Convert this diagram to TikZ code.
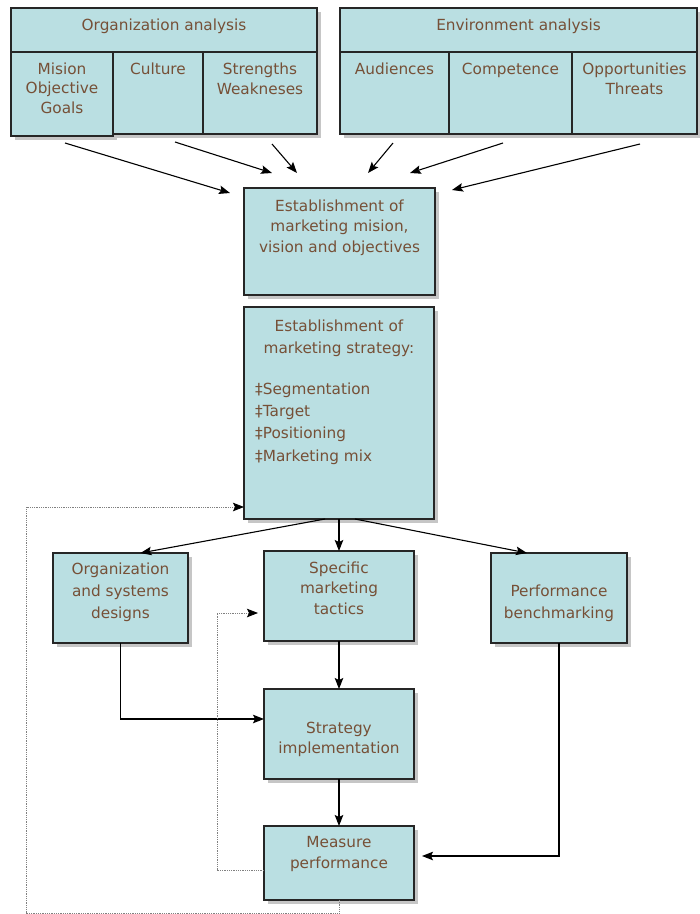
\documentclass[tikz,border=0pt]{standalone}
\usepackage{fontspec}
\setmainfont{DejaVu Sans}
\usetikzlibrary{arrows.meta,shadows}
\definecolor{boxfill}{RGB}{186,223,226}
\definecolor{txtcol}{RGB}{118,80,55}
\tikzset{%
    box/.style={draw=black!85, line width=1.3pt, fill=boxfill, anchor=north west, inner sep=0pt, outer sep=0pt,
        drop shadow={shadow xshift=3.5pt, shadow yshift=-3.5pt, opacity=0.45}},
    lbl/.style={text=txtcol, font=\fontsize{15.3}{20.5}\selectfont, align=center, inner sep=0pt, anchor=north},
    pra/.style={line width=1.1pt, -{Stealth[length=11pt, width=8.5pt, inset=2pt]}},
    dra/.style={line width=0.8pt, densely dotted, black!50, -{Stealth[length=11pt, width=8.5pt, inset=2pt, color=black]}}
}

\begin{document}
\begin{tikzpicture}[x=1pt,y=-1pt]
    \useasboundingbox (0,0) rectangle (700,914);
    % analysis tables
    \node[box, minimum width=306, minimum height=44, label={[lbl,yshift=-10.5pt]north:{Organization analysis}}] (orgH) at (11,8) {};
    \node[box, minimum width=102, minimum height=84, label={[lbl,yshift=-10.5pt,font=\fontsize{15.3}{19.5}\selectfont]north:{Mision\\Objective\\Goals}}] (mis) at (11,52) {};
    \node[box, minimum width=90, minimum height=82, label={[lbl,yshift=-10.5pt]north:{Culture}}] (cul) at (113,52) {};
    \node[box, minimum width=114, minimum height=82, label={[lbl,yshift=-10.5pt]north:{Strengths\\Weakneses}}] (sw) at (203,52) {};
    \node[box, minimum width=357, minimum height=44, label={[lbl,yshift=-10.5pt]north:{Environment analysis}}] (envH) at (340,8) {};
    \node[box, minimum width=109, minimum height=82, label={[lbl,yshift=-10.5pt]north:{Audiences}}] (aud) at (340,52) {};
    \node[box, minimum width=123, minimum height=82, label={[lbl,yshift=-10.5pt]north:{Competence}}] (comp) at (449,52) {};
    \node[box, minimum width=125, minimum height=82, label={[lbl,yshift=-10.5pt]north:{Opportunities\\Threats}}] (opp) at (572,52) {};
    % main column
    \node[box, minimum width=191, minimum height=107, label={[lbl,yshift=-11.5pt]north:{Establishment of\\marketing mision,\\vision and objectives}}] (est) at (244,188) {};
    \node[box, minimum width=190, minimum height=212, label={[lbl,yshift=-12.5pt,font=\fontsize{15.3}{22}\selectfont]north:{Establishment of\\marketing strategy:}},
        label={[lbl,anchor=north west,align=left,xshift=11pt,yshift=-75.5pt,font=\fontsize{15.3}{22.3}\selectfont]north west:{‡Segmentation\\‡Target\\‡Positioning\\‡Marketing mix}}] (strat) at (244,307) {};
    \node[box, minimum width=135, minimum height=90, label={[lbl,yshift=-9.5pt,font=\fontsize{15.3}{22}\selectfont]north:{Organization\\and systems\\designs}}] (orgsys) at (53,553) {};
    \node[box, minimum width=150, minimum height=90, label={[lbl,yshift=-10.5pt]north:{Specific\\marketing\\tactics}}] (tactics) at (264,551) {};
    \node[box, minimum width=136, minimum height=90, label={[lbl,yshift=-31.5pt,font=\fontsize{15.3}{22}\selectfont]north:{Performance\\benchmarking}}] (perf) at (491,553) {};
    \node[box, minimum width=150, minimum height=90, label={[lbl,yshift=-32.5pt]north:{Strategy\\implementation}}] (impl) at (264,689) {};
    \node[box, minimum width=150, minimum height=74, label={[lbl,yshift=-10.5pt]north:{Measure\\performance}}] (meas) at (264,826) {};
    % inputs to the mission box
    \coordinate (misO) at (65,143);   \coordinate (misI) at (230,193);
    \coordinate (culO) at (175,142);  \coordinate (culI) at (272,173);
    \coordinate (swO) at (272,144);   \coordinate (swI) at (297,173);
    \coordinate (audO) at (393,143);  \coordinate (audI) at (368,173);
    \coordinate (compO) at (503,143); \coordinate (compI) at (410,173);
    \coordinate (oppO) at (640,144);  \coordinate (oppI) at (452,190);
    \foreach \a in {mis,cul,sw,aud,comp,opp}
        \draw[pra] (\a O) -- (\a I);
    % flow
    \draw[pra] ([xshift=-14pt]strat.south) -- ([xshift=20pt]orgsys.north);
    \draw[pra] (strat.south) -- (tactics.north);
    \draw[pra] ([xshift=16pt]strat.south) -- ([xshift=-32pt]perf.north);
    \draw[pra] (tactics.south) -- (impl.north);
    \draw[pra] (impl.south) -- (meas.north);
    \draw[pra] (orgsys.south) |- ([yshift=15pt]impl.west);
    \draw[pra, shorten >=8pt] (perf.south) |- ([yshift=7pt]meas.east);
    % feedback loops
    \coordinate (loopL) at (26,507);
    \draw[dra, shorten >=6pt] ([yshift=-7pt]meas.west) -- ++(-47,0) |- ([yshift=-17pt]tactics.west);
    \draw[dra] (meas.south) -- ++(0,13) -| (loopL) -- ([yshift=-94pt]strat.west);
\end{tikzpicture}
\end{document}
